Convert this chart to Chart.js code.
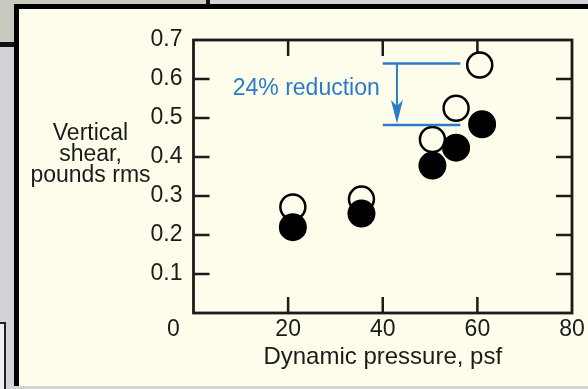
<!DOCTYPE html>
<html>
<head>
<meta charset="utf-8">
<script src="https://cdn.jsdelivr.net/npm/chart.js@4.4.0/dist/chart.umd.min.js"></script>
<style>
  html, body { margin: 0; padding: 0; }
  body { width: 588px; height: 389px; position: relative; overflow: hidden; background: #d3d3d7; }
  #corner { position: absolute; left: 0; top: 0; width: 206px; height: 42px; background: #c9c9be; border-bottom: 5px solid #111; border-right: 4px solid #111; }
  #tab { position: absolute; left: -4px; top: 322px; width: 6px; height: 80px; border: 2px solid #222; background: #eeeeee; }
  #panel { position: absolute; left: 14px; top: 4px; width: 580px; height: 377px; background: #fefcea; border-left: 5px solid #000; border-top: 5px solid #000; }
  canvas { position: absolute; left: 0; top: 0; }
</style>
</head>
<body>
<div id="corner"></div>
<div id="tab"></div>
<div id="panel"></div>
<canvas id="myChart" width="588" height="389"></canvas>
<script>
// values
const xTickValues = [20, 40, 60];
const yTickValues = [0.1, 0.2, 0.3, 0.4, 0.5, 0.6];
const openPressure = [21, 35.5, 50.5, 55.5, 60.5];
const openShear = [0.272, 0.292, 0.445, 0.525, 0.636];
const solidPressure = [21, 35.5, 50.5, 55.5, 61];
const solidShear = [0.22, 0.255, 0.378, 0.424, 0.484];
const reductionLevels = [0.64, 0.482];
const reductionSpan = [40, 56.4];
const arrowAt = 43;
const yTitleLines = ['Vertical', 'shear,', 'pounds rms'];

const ink = '#1b1b1b';
const blue = '#2a7cc7';
const cream = '#fefcea';
const font = { family: '"Liberation Sans", Arial, Helvetica, sans-serif', size: 23 };
const titleFont = { family: font.family, size: 24 };

function toPoints(xs, ys) {
  return xs.map((x, i) => ({ x: x, y: ys[i] }));
}

const framePlugin = {
  id: 'frame',
  beforeDatasetsDraw(chart) {
    const { ctx, chartArea: a, scales: { x, y } } = chart;
    ctx.save();
    ctx.strokeStyle = ink;
    ctx.lineWidth = 2.8;
    ctx.strokeRect(a.left, a.top, a.right - a.left, a.bottom - a.top);
    ctx.lineWidth = 2.5;
    ctx.beginPath();
    yTickValues.forEach(v => {
      const py = y.getPixelForValue(v);
      ctx.moveTo(a.left, py); ctx.lineTo(a.left + 16, py);
      ctx.moveTo(a.right, py); ctx.lineTo(a.right - 16, py);
    });
    xTickValues.forEach(v => {
      const px = x.getPixelForValue(v);
      ctx.moveTo(px, a.bottom); ctx.lineTo(px, a.bottom - 16);
      ctx.moveTo(px, a.top); ctx.lineTo(px, a.top + 16);
    });
    ctx.stroke();

    // shared origin label and y title
    ctx.fillStyle = ink;
    ctx.font = font.size + 'px ' + font.family;
    ctx.textAlign = 'center';
    ctx.textBaseline = 'middle';
    ctx.fillText('0', x.getPixelForValue(0) - 20, a.bottom + 16.5);
    ctx.textBaseline = 'alphabetic';
    yTitleLines.forEach((t, i) => {
      ctx.fillText(t, a.left - 103, a.top + 100 + i * 21);
    });
    ctx.restore();
  },
  afterDatasetsDraw(chart) {
    const { ctx, scales: { x, y } } = chart;
    const x0 = x.getPixelForValue(reductionSpan[0]);
    const x1 = x.getPixelForValue(reductionSpan[1]);
    const yTop = y.getPixelForValue(reductionLevels[0]);
    const yBot = y.getPixelForValue(reductionLevels[1]);
    const xa = x.getPixelForValue(arrowAt);
    ctx.save();
    ctx.strokeStyle = blue;
    ctx.fillStyle = blue;
    ctx.lineWidth = 2.5;
    ctx.beginPath();
    ctx.moveTo(x0, yTop); ctx.lineTo(x1, yTop);
    ctx.moveTo(x0, yBot); ctx.lineTo(x1, yBot);
    ctx.stroke();
    ctx.lineWidth = 2;
    ctx.beginPath();
    ctx.moveTo(xa, yTop); ctx.lineTo(xa, yBot - 16);
    ctx.stroke();
    ctx.beginPath();
    ctx.moveTo(xa, yBot - 1.5);
    ctx.lineTo(xa - 6, yBot - 25);
    ctx.lineTo(xa, yBot - 19);
    ctx.lineTo(xa + 6, yBot - 25);
    ctx.closePath();
    ctx.fill();
    ctx.font = font.size + 'px ' + font.family;
    ctx.textAlign = 'right';
    ctx.textBaseline = 'middle';
    ctx.fillText('24% reduction', x0 - 3, (yTop + yBot) / 2 - 6);
    ctx.restore();
  }
};

new Chart(document.getElementById('myChart').getContext('2d'), {
  type: 'scatter',
  data: {
    datasets: [
      {
        label: 'solid',
        data: toPoints(solidPressure, solidShear),
        pointRadius: 13,
        pointBorderWidth: 2,
        pointBackgroundColor: '#000',
        pointBorderColor: '#000'
      },
      {
        label: 'open',
        data: toPoints(openPressure, openShear),
        pointRadius: 12.5,
        pointBorderWidth: 2.5,
        pointBackgroundColor: cream,
        pointBorderColor: '#000'
      }
    ]
  },
  options: {
    responsive: false,
    animation: false,
    events: [],
    layout: { padding: { left: 0, right: 16, top: 40, bottom: 0 } },
    plugins: { legend: { display: false }, tooltip: { enabled: false } },
    scales: {
      x: {
        type: 'linear',
        min: 0, max: 80,
        grid: { display: false, drawTicks: false },
        border: { display: false },
        ticks: {
          stepSize: 20, padding: 3, color: ink, font: font, maxRotation: 0,
          callback: v => (v === 0 ? '' : v)
        },
        title: { display: true, text: 'Dynamic pressure, psf', color: ink, font: titleFont, padding: { top: 0, bottom: 17 } },
        afterFit: s => { s.height = 76; }
      },
      y: {
        min: 0, max: 0.7,
        grid: { display: false, drawTicks: false },
        border: { display: false },
        ticks: {
          stepSize: 0.1, padding: 11, color: ink, font: font,
          callback: v => (v < 0.05 ? '' : v.toFixed(1))
        },
        afterFit: s => { s.width = 193.5; }
      }
    }
  },
  plugins: [framePlugin]
});
</script>
</body>
</html>
